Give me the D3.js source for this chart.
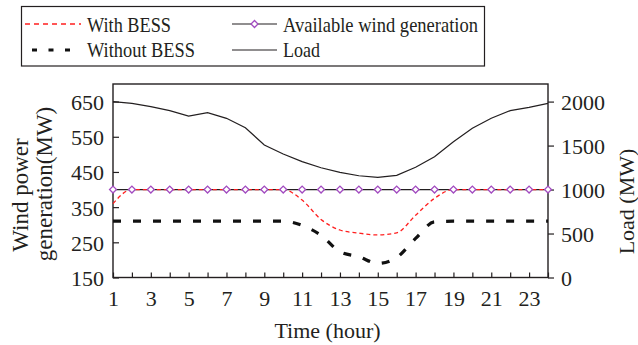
<!DOCTYPE html>
<html>
<head>
<meta charset="utf-8">
<script src="https://cdn.jsdelivr.net/npm/d3@7"></script>
<style>
  html, body { margin: 0; padding: 0; background: #fff; }
  svg text { font-family: "Liberation Serif", "Times New Roman", serif; fill: #231f20; }
</style>
</head>
<body>
<svg id="canvas"></svg>
<script>
/** Chart values */
let hours = [1, 2, 3, 4, 5, 6, 7, 8, 9, 10, 11, 12, 13, 14, 15, 16, 17, 18, 19, 20, 21, 22, 23, 24];
let withBess = [360, 400, 400, 400, 400, 400, 400, 400, 400, 400, 370, 315, 285, 276, 271, 277, 327, 375, 400, 400, 400, 400, 400, 400];
let withoutBess = [310, 310, 310, 310, 310, 310, 310, 310, 310, 310, 298, 270, 223, 209, 190, 207, 261, 308, 310, 310, 310, 310, 310, 310];
let windAvail = [400, 400, 400, 400, 400, 400, 400, 400, 400, 400, 400, 400, 400, 400, 400, 400, 400, 400, 400, 400, 400, 400, 400, 400];
let load = [2000, 1980, 1942, 1897, 1836, 1874, 1810, 1703, 1506, 1404, 1317, 1248, 1196, 1157, 1139, 1162, 1253, 1373, 1544, 1696, 1810, 1897, 1935, 1980];

let leftTicks = [150, 250, 350, 450, 550, 650];
let rightTicks = [0, 500, 1000, 1500, 2000];

let width = 638;
let height = 345;
let plot = { left: 113, right: 548, top: 84, bottom: 277.5 };

let purple = '#a24bc0';
let canvas = d3.select('#canvas').attr('width', width).attr('height', height);

// scales
let xScale = d3.scaleLinear().domain([1, 24]).range([plot.left, plot.right]);
let yScale = d3.scaleLinear().domain([150, 700]).range([plot.bottom, plot.top]);
let yScaleRight = d3.scaleLinear().domain([0, 2200]).range([plot.bottom, plot.top]);

// axes
const styleAxis = (g) => {
    g.attr('font-family', null);
    g.select('.domain').remove();
    g.selectAll('.tick line').attr('stroke', '#231f20').attr('stroke-width', 1.2);
    g.selectAll('text').attr('font-size', 22).attr('fill', '#231f20');
};

canvas.append('g')
    .attr('transform', `translate(0, ${plot.bottom})`)
    .call(d3.axisBottom(xScale).tickValues(hours).tickSizeInner(-5).tickSizeOuter(0)
        .tickFormat(d => d % 2 ? d : ''))
    .call(styleAxis)
    .call(g => g.selectAll('text').attr('dy', null).attr('y', 28));

canvas.append('g')
    .attr('transform', `translate(${plot.left}, 0)`)
    .call(d3.axisLeft(yScale).tickValues(leftTicks).tickSizeInner(-6).tickSizeOuter(0).tickPadding(9))
    .call(styleAxis)
    .call(g => g.selectAll('text').attr('dy', '0.36em'));

canvas.append('g')
    .attr('transform', `translate(${plot.right}, 0)`)
    .call(d3.axisRight(yScaleRight).tickValues(rightTicks).tickSizeInner(6).tickSizeOuter(0).tickPadding(7)
        .tickFormat(d3.format('d')))
    .call(styleAxis)
    .call(g => g.selectAll('text').attr('dy', '0.36em'));

// frame
canvas.append('rect')
    .attr('x', plot.left).attr('y', plot.top)
    .attr('width', plot.right - plot.left).attr('height', plot.bottom - plot.top)
    .attr('fill', 'none').attr('stroke', '#231f20').attr('stroke-width', 1.4);

// lines
const lineLeft = (curve) => d3.line().x((d, i) => xScale(hours[i])).y(d => yScale(d)).curve(curve);
const lineRight = d3.line().x((d, i) => xScale(hours[i])).y(d => yScaleRight(d));

canvas.append('path').datum(load)
    .attr('d', lineRight)
    .attr('fill', 'none').attr('stroke', '#231f20').attr('stroke-width', 1.2);

canvas.append('path').datum(withoutBess)
    .attr('d', lineLeft(d3.curveMonotoneX))
    .attr('fill', 'none').attr('stroke', '#111').attr('stroke-width', 3.2)
    .attr('stroke-dasharray', '8,12');

canvas.append('path').datum(windAvail)
    .attr('d', lineLeft(d3.curveLinear))
    .attr('fill', 'none').attr('stroke', '#231f20').attr('stroke-width', 1.3);

canvas.append('path').datum(withBess)
    .attr('d', lineLeft(d3.curveMonotoneX))
    .attr('fill', 'none').attr('stroke', '#ff1f1f').attr('stroke-width', 1.3)
    .attr('stroke-dasharray', '4,3');

let diamond = d3.symbol().type(d3.symbolSquare).size(24);
canvas.selectAll('.marker')
    .data(windAvail)
    .enter()
    .append('path')
    .attr('class', 'marker')
    .attr('d', diamond)
    .attr('transform', (d, i) => `translate(${xScale(hours[i])}, ${yScale(d)}) rotate(45)`)
    .attr('fill', '#fff').attr('stroke', purple).attr('stroke-width', 1.3);

// axis titles
canvas.append('text')
    .attr('x', 327.5).attr('y', 337.5)
    .attr('text-anchor', 'middle').attr('font-size', 22)
    .text('Time (hour)');

canvas.append('text')
    .attr('transform', 'translate(28, 195) rotate(-90)')
    .attr('text-anchor', 'middle').attr('font-size', 23)
    .text('Wind power');

canvas.append('text')
    .attr('transform', 'translate(52, 184) rotate(-90)')
    .attr('text-anchor', 'middle').attr('font-size', 23)
    .text('generation(MW)');

canvas.append('text')
    .attr('transform', 'translate(634, 201.5) rotate(-90)')
    .attr('text-anchor', 'middle').attr('font-size', 22)
    .text('Load (MW)');

// legend
let legend = canvas.append('g');
legend.append('rect')
    .attr('x', 21.5).attr('y', 6.5).attr('width', 463).attr('height', 59.5)
    .attr('fill', '#fff').attr('stroke', '#231f20').attr('stroke-width', 1.2);

legend.append('line')
    .attr('x1', 25).attr('x2', 81).attr('y1', 24).attr('y2', 24)
    .attr('stroke', '#ff1f1f').attr('stroke-width', 1.3).attr('stroke-dasharray', '5,4');
legend.append('line')
    .attr('x1', 32).attr('x2', 76).attr('y1', 50).attr('y2', 50)
    .attr('stroke', '#111').attr('stroke-width', 3.2).attr('stroke-dasharray', '5,11.5');
legend.append('line')
    .attr('x1', 232).attr('x2', 277).attr('y1', 24).attr('y2', 24)
    .attr('stroke', '#231f20').attr('stroke-width', 1.2);
legend.append('path')
    .attr('d', diamond)
    .attr('transform', 'translate(254.5, 24) rotate(45)')
    .attr('fill', '#fff').attr('stroke', purple).attr('stroke-width', 1.3);
legend.append('line')
    .attr('x1', 232).attr('x2', 277).attr('y1', 50).attr('y2', 50)
    .attr('stroke', '#231f20').attr('stroke-width', 1.2);

let legendItems = [
    { label: 'With BESS', x: 87, y: 31.5, w: 84 },
    { label: 'Without BESS', x: 87, y: 56.5, w: 108 },
    { label: 'Available wind generation', x: 283, y: 31.5, w: 195 },
    { label: 'Load', x: 283, y: 56.5, w: 37 }
];
legend.selectAll('.legend-text')
    .data(legendItems)
    .enter()
    .append('text')
    .attr('class', 'legend-text')
    .attr('x', d => d.x).attr('y', d => d.y)
    .attr('font-size', 22)
    .attr('textLength', d => d.w)
    .attr('lengthAdjust', 'spacingAndGlyphs')
    .text(d => d.label);
</script>
</body>
</html>
